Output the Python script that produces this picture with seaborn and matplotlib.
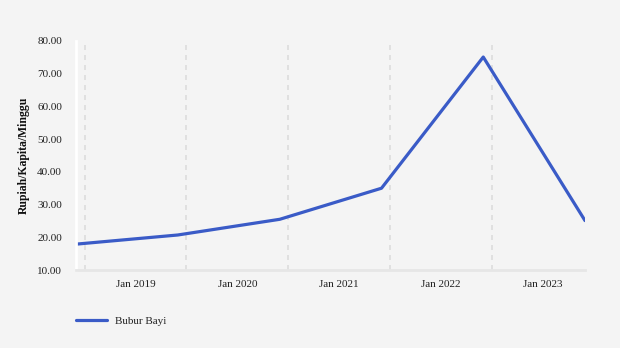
import matplotlib
matplotlib.use("Agg")
import matplotlib.pyplot as plt
import seaborn as sns
import pandas as pd

dates = ["2018-12-01", "2019-12-01", "2020-12-01", "2021-12-01", "2022-12-01", "2023-12-01"]
values = [17.9, 20.7, 25.5, 35.0, 75.1, 25.1]
series_name = "Bubur Bayi"
tick_years = [2019, 2020, 2021, 2022, 2023]
tick_labels = ["Jan 2019", "Jan 2020", "Jan 2021", "Jan 2022", "Jan 2023"]
y_ticks = [10, 20, 30, 40, 50, 60, 70, 80]
y_label = "Rupiah/Kapita/Minggu"

df = pd.DataFrame({"date": pd.to_datetime(dates), "value": values, "series": series_name})

sns.set_theme(style="white")
plt.rcParams["font.family"] = ["Liberation Serif", "DejaVu Serif"]
bg = "#f4f4f4"
color = "#3a5bc7"

fig = plt.figure(figsize=(6.2, 3.48), dpi=100, facecolor=bg)
ax = fig.add_axes([76/620, 1 - 270/348, (585 - 76)/620, (270 - 41)/348])
ax.set_facecolor(bg)

sns.lineplot(data=df, x="date", y="value", hue="series", palette=[color],
             linewidth=2.3, ax=ax, legend=True)

ax.set_xlim(pd.Timestamp(dates[0]), pd.Timestamp(dates[-1]))
ax.set_ylim(y_ticks[0], y_ticks[-1])
ax.set_yticks(y_ticks)
ax.set_yticklabels([f"{v:.2f}" for v in y_ticks], fontsize=8, color="#222222")

major = [pd.Timestamp(f"{y}-01-01") for y in tick_years]
minor = [pd.Timestamp(f"{y}-07-02") for y in tick_years]
ax.set_xticks(major)
ax.set_xticklabels([""] * len(major))
ax.set_xticks(minor, minor=True)
ax.set_xticklabels(tick_labels, minor=True, fontsize=8, color="#222222")
ax.tick_params(axis="x", which="minor", length=0, pad=7)
ax.tick_params(axis="x", which="major", length=5, width=1.2, color="#e0e0e0", direction="out")
ax.tick_params(axis="y", length=6, width=1.5, color="white", pad=4)

ax.grid(axis="x", which="major", color="#dcdcdc", linestyle=(0, (3, 3)), linewidth=1.2)
ax.grid(axis="y", visible=False)

for s in ["top", "right"]:
    ax.spines[s].set_visible(False)
ax.spines["left"].set_color("white")
ax.spines["left"].set_linewidth(2)
ax.spines["bottom"].set_color("#e6e6e6")
ax.spines["bottom"].set_linewidth(2)

ax.set_xlabel("")
ax.set_ylabel(y_label, fontsize=8.5, fontweight="bold", color="#111111", labelpad=5)

ax.legend(loc="upper left", bbox_to_anchor=(-0.008, -0.182), frameon=False,
          fontsize=8, handlelength=2.75, handletextpad=0.75, borderaxespad=0)
for t in ax.get_legend().get_texts():
    t.set_color("#222222")

fig.savefig("out.png", dpi=100, facecolor=bg)
